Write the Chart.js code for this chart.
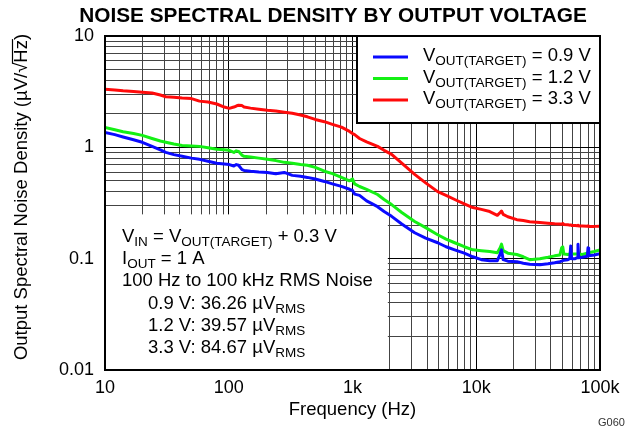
<!DOCTYPE html>
<html>
<head>
<meta charset="utf-8">
<script src="https://cdn.jsdelivr.net/npm/chart.js@4.4.1/dist/chart.umd.min.js"></script>
<style>
  html, body { margin: 0; padding: 0; background: #fff; }
  #wrap { width: 625px; height: 430px; }
</style>
</head>
<body>
<div id="wrap"><canvas id="chart" width="625" height="430"></canvas></div>
<script>
'use strict';

// Values (Hz, uV/rtHz).
var freqHz = [10, 12, 14, 17, 20, 24, 28, 31, 36, 42, 50, 58, 68, 80, 92, 101, 110, 115, 120, 128,
  133, 150, 175, 205, 240, 281, 326, 380, 432, 500, 593, 688, 814, 946, 1000, 1040, 1140, 1300, 1594, 1800,
  2070, 2500, 3180, 3900, 4880, 5700, 6700, 8000, 9380, 11000, 12860, 14800, 15600, 16000, 16500, 18000, 21270, 24000, 27000, 32680,
  38000, 43000, 47430, 49000, 50000, 51000, 55000, 57000, 58000, 59000, 63000, 65500, 66400, 67300, 72000, 79000, 80000, 81000, 90000, 100000];

var noise09 = [1.36, 1.3, 1.24, 1.17, 1.11, 1.02, 0.95, 0.9, 0.86, 0.83, 0.8, 0.78, 0.75, 0.72, 0.71, 0.7, 0.68, 0.7, 0.69, 0.63,
  0.62, 0.61, 0.6, 0.595, 0.58, 0.595, 0.56, 0.55, 0.537, 0.52, 0.494, 0.47, 0.446, 0.42, 0.41, 0.38, 0.37, 0.33, 0.293, 0.265,
  0.24, 0.205, 0.171, 0.153, 0.139, 0.128, 0.12, 0.112, 0.104, 0.098, 0.096, 0.096, 0.11, 0.12, 0.098, 0.095, 0.094, 0.091, 0.089, 0.088,
  0.09, 0.092, 0.094, 0.095, 0.096, 0.097, 0.098, 0.1, 0.13, 0.1, 0.1, 0.102, 0.135, 0.102, 0.103, 0.105, 0.125, 0.106, 0.108, 0.111];

var noise12 = [1.51, 1.44, 1.38, 1.33, 1.28, 1.2, 1.14, 1.11, 1.07, 1.04, 1.03, 1.02, 0.99, 0.96, 0.95, 0.94, 0.9, 0.93, 0.92, 0.85,
  0.83, 0.82, 0.8, 0.78, 0.76, 0.733, 0.72, 0.7, 0.69, 0.66, 0.61, 0.58, 0.537, 0.5, 0.52, 0.47, 0.445, 0.42, 0.377, 0.34,
  0.306, 0.26, 0.216, 0.19, 0.164, 0.15, 0.139, 0.128, 0.12, 0.118, 0.116, 0.113, 0.125, 0.135, 0.118, 0.112, 0.109, 0.104, 0.098, 0.1,
  0.103, 0.106, 0.108, 0.125, 0.128, 0.11, 0.109, 0.11, 0.111, 0.11, 0.11, 0.11, 0.111, 0.11, 0.109, 0.112, 0.114, 0.113, 0.116, 0.12];

var noise33 = [3.33, 3.28, 3.22, 3.18, 3.13, 3.08, 2.95, 2.85, 2.82, 2.77, 2.74, 2.6, 2.55, 2.45, 2.3, 2.24, 2.3, 2.35, 2.39, 2.37,
  2.3, 2.25, 2.2, 2.15, 2.12, 2.07, 2.02, 1.95, 1.88, 1.78, 1.7, 1.61, 1.52, 1.39, 1.33, 1.3, 1.2, 1.12, 1.02, 0.94,
  0.865, 0.72, 0.571, 0.48, 0.4, 0.37, 0.34, 0.31, 0.288, 0.277, 0.265, 0.245, 0.26, 0.268, 0.25, 0.238, 0.224, 0.22, 0.215, 0.211,
  0.208, 0.206, 0.205, 0.204, 0.207, 0.203, 0.202, 0.2, 0.201, 0.199, 0.199, 0.198, 0.2, 0.197, 0.197, 0.196, 0.197, 0.195, 0.195, 0.196];

var seriesLabels = ['0.9 V', '1.2 V', '3.3 V'];
var seriesColors = ['#0a0aff', '#14f014', '#ff0a0a'];

var xTickValues = [10, 100, 1000, 10000, 100000];
var xTickLabels = ['10', '100', '1k', '10k', '100k'];
var yTickValues = [0.01, 0.1, 1, 10];
var yTickLabels = ['0.01', '0.1', '1', '10'];

// Text block in the lower left: [indent, [text, subscript], ...]
var noteLines = [
  [0, ['V', 'IN'], [' = V', 'OUT(TARGET)'], [' + 0.3 V', '']],
  [0, ['I', 'OUT'], [' = 1 A', '']],
  [0, ['100 Hz to 100 kHz RMS Noise', '']],
  [1, ['0.9 V: 36.26 \u00b5V', 'RMS']],
  [1, ['1.2 V: 39.57 \u00b5V', 'RMS']],
  [1, ['3.3 V: 84.67 \u00b5V', 'RMS']]
];

var FONT = '"Liberation Sans", Arial, Helvetica, sans-serif';

function sameValue(a, b) { return Math.abs(Math.log10(a) - Math.log10(b)) < 1e-6; }

function labelFor(v, values, labels) {
  for (var i = 0; i < values.length; i++) {
    if (sameValue(v, values[i])) return labels[i];
  }
  return '';
}

// grid at 1..9 x each decade
function decadeGrid(fromExp, toExp) {
  var out = [];
  for (var e = fromExp; e < toExp; e++) {
    for (var k = 1; k < 10; k++) out.push({ value: k * Math.pow(10, e) });
  }
  out.push({ value: Math.pow(10, toExp) });
  return out;
}

function gridColor(ctx) {
  var v = ctx.tick && ctx.tick.value;
  if (!v) return '#444';
  var l = Math.log10(v);
  return Math.abs(l - Math.round(l)) < 1e-6 ? '#000' : '#444';
}

function points(values) {
  return freqHz.map(function (f, i) { return { x: f, y: values[i] }; });
}

// draws "Text" + "sub" pairs, returns end x
function richText(ctx, x, y, parts, size) {
  for (var i = 0; i < parts.length; i++) {
    ctx.font = size + 'px ' + FONT;
    ctx.fillText(parts[i][0], x, y);
    x += ctx.measureText(parts[i][0]).width;
    if (parts[i][1]) {
      ctx.font = (size * 0.73) + 'px ' + FONT;
      ctx.fillText(parts[i][1], x, y + 4);
      x += ctx.measureText(parts[i][1]).width;
    }
  }
  return x;
}

var decor = {
  id: 'decor',
  beforeDatasetsDraw: function (chart) {
    var a = chart.chartArea, ctx = chart.ctx;
    var xs = chart.scales.x, ys = chart.scales.y;
    ctx.save();
    ctx.fillStyle = '#fff';
    // legend box and note area hide the grid
    ctx.fillRect(a.right - 243, a.top, 243, 87);
    var noteTop = ys.getPixelForValue(0.25);
    ctx.fillRect(a.left, noteTop, xs.getPixelForValue(1930) - a.left, a.bottom - noteTop);
    ctx.restore();
  },
  afterDatasetsDraw: function (chart) {
    var a = chart.chartArea, ctx = chart.ctx;
    ctx.save();
    ctx.strokeStyle = '#000';
    ctx.lineWidth = 2;
    ctx.strokeRect(a.right - 243, a.top, 243, 87);

    ctx.fillStyle = '#000';
    ctx.textBaseline = 'alphabetic';
    ctx.textAlign = 'left';
    chart.data.datasets.forEach(function (ds, i) {
      var y = a.top + 25 + i * 21.5;
      ctx.strokeStyle = ds.borderColor;
      ctx.lineWidth = 3;
      ctx.beginPath();
      ctx.moveTo(a.right - 227, y - 4);
      ctx.lineTo(a.right - 192, y - 4);
      ctx.stroke();
      richText(ctx, a.right - 177, y, [['V', 'OUT(TARGET)'], [' = ' + ds.label, '']], 18.5);
    });

    noteLines.forEach(function (line, i) {
      var x = a.left + 17 + line[0] * 26;
      richText(ctx, x, a.top + 206 + i * 22.2, line.slice(1), 18.5);
    });
    ctx.restore();
  },
  afterDraw: function (chart) {
    var a = chart.chartArea, ctx = chart.ctx;
    ctx.save();
    ctx.strokeStyle = '#000';
    ctx.lineWidth = 2;
    ctx.strokeRect(a.left, a.top, a.right - a.left, a.bottom - a.top);

    ctx.fillStyle = '#000';
    ctx.textAlign = 'center';
    ctx.textBaseline = 'alphabetic';
    ctx.font = 'bold 20.8px ' + FONT;
    ctx.fillText('NOISE SPECTRAL DENSITY BY OUTPUT VOLTAGE', 333, 22);

    // y axis title with the root bar over Hz
    ctx.translate(27, (a.top + a.bottom) / 2 - 6);
    ctx.rotate(-Math.PI / 2);
    ctx.font = '18.5px ' + FONT;
    var head = 'Output Spectral Noise Density (\u00b5V/\u221a';
    var tail = 'Hz)';
    var wHead = ctx.measureText(head).width;
    var wHz = ctx.measureText('Hz').width;
    var wAll = wHead + ctx.measureText(tail).width;
    ctx.textAlign = 'left';
    ctx.fillText(head, -wAll / 2, 0);
    ctx.fillText(tail, -wAll / 2 + wHead, 0);
    ctx.lineWidth = 1.2;
    ctx.beginPath();
    ctx.moveTo(-wAll / 2 + wHead - 1, -14.5);
    ctx.lineTo(-wAll / 2 + wHead + wHz + 1, -14.5);
    ctx.stroke();
    ctx.setTransform(1, 0, 0, 1, 0, 0);

    ctx.font = '11px ' + FONT;
    ctx.textAlign = 'left';
    ctx.fillStyle = '#333';
    ctx.fillText('G060', 598, 426);
    ctx.restore();
  }
};

new Chart(document.getElementById('chart'), {
  type: 'line',
  data: {
    datasets: [
      { label: seriesLabels[0], data: points(noise09), borderColor: seriesColors[0] },
      { label: seriesLabels[1], data: points(noise12), borderColor: seriesColors[1] },
      { label: seriesLabels[2], data: points(noise33), borderColor: seriesColors[2] }
    ]
  },
  options: {
    responsive: false,
    animation: false,
    devicePixelRatio: 1,
    layout: { padding: { left: 0, right: 25, top: 36, bottom: 0 } },
    elements: {
      point: { radius: 0 },
      line: { borderWidth: 3, tension: 0, fill: false, borderJoinStyle: 'round', borderCapStyle: 'round' }
    },
    plugins: {
      legend: { display: false },
      title: { display: false },
      tooltip: { enabled: false }
    },
    scales: {
      x: {
        type: 'logarithmic',
        min: 10,
        max: 100000,
        afterBuildTicks: function (s) { s.ticks = decadeGrid(1, 5); },
        afterFit: function (s) {
          s.height = 60;
          s.paddingLeft = 0;
          s.paddingRight = 0;
        },
        ticks: {
          autoSkip: false,
          maxRotation: 0,
          padding: 7,
          color: '#000',
          font: { family: FONT, size: 18 },
          callback: function (v) { return labelFor(v, xTickValues, xTickLabels); }
        },
        grid: { drawTicks: false, color: gridColor, lineWidth: 1 },
        border: { display: false },
        title: {
          display: true,
          text: 'Frequency (Hz)',
          color: '#000',
          font: { family: FONT, size: 18.5 },
          padding: { top: 0, bottom: 9 }
        }
      },
      y: {
        type: 'logarithmic',
        min: 0.01,
        max: 10,
        afterBuildTicks: function (s) { s.ticks = decadeGrid(-2, 1); },
        afterFit: function (s) { s.width = 105; },
        ticks: {
          autoSkip: false,
          padding: 11,
          color: '#000',
          font: { family: FONT, size: 18 },
          callback: function (v) { return labelFor(v, yTickValues, yTickLabels); }
        },
        grid: { drawTicks: false, color: gridColor, lineWidth: 1 },
        border: { display: false }
      }
    }
  },
  plugins: [decor]
});
</script>
</body>
</html>
